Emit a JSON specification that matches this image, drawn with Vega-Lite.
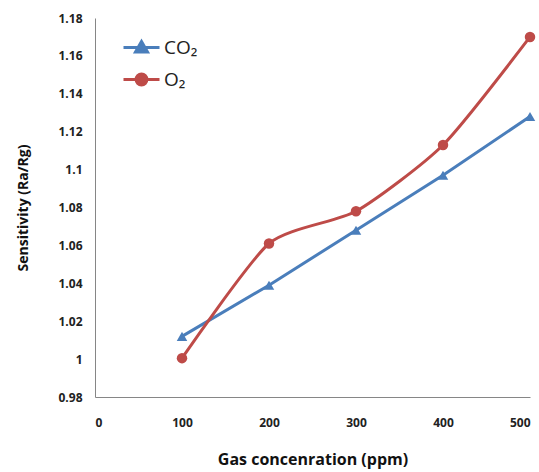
{
  "$schema": "https://vega.github.io/schema/vega-lite/v6.json",
  "autosize": "none",
  "width": 435,
  "height": 379,
  "padding": {"left": 95, "top": 18, "right": 9, "bottom": 75},
  "background": "white",
  "config": {
    "view": {"stroke": null},
    "font": "Open Sans",
    "axis": {"grid": false, "ticks": false, "domainColor": "#868686", "domainWidth": 1, "labelColor": "#222222", "titleColor": "#111111", "labelFontWeight": "bold", "labelFontSize": 12, "titleFontWeight": "bold"}
  },
  "data": {
    "values": [
      {"ppm": 100, "sens": 1.012, "gas": "CO₂"},
      {"ppm": 200, "sens": 1.039, "gas": "CO₂"},
      {"ppm": 300, "sens": 1.068, "gas": "CO₂"},
      {"ppm": 400, "sens": 1.097, "gas": "CO₂"},
      {"ppm": 500, "sens": 1.128, "gas": "CO₂"},
      {"ppm": 100, "sens": 1.0005, "gas": "O₂"},
      {"ppm": 200, "sens": 1.061, "gas": "O₂"},
      {"ppm": 300, "sens": 1.078, "gas": "O₂"},
      {"ppm": 400, "sens": 1.113, "gas": "O₂"},
      {"ppm": 500, "sens": 1.17, "gas": "O₂"}
    ]
  },
  "encoding": {
    "x": {"field": "ppm", "type": "quantitative", "scale": {"domain": [0, 500], "nice": false},
      "axis": {"values": [0, 100, 200, 300, 400, 500], "labelPadding": 20, "title": "Gas concenration (ppm)", "titleFontSize": 16, "titlePadding": 23}},
    "y": {"field": "sens", "type": "quantitative", "scale": {"domain": [0.98, 1.18], "nice": false, "zero": false},
      "axis": {"values": [0.98, 1.0, 1.02, 1.04, 1.06, 1.08, 1.1, 1.12, 1.14, 1.16, 1.18], "format": ".2~f", "labelPadding": 13, "title": "Sensitivity (Ra/Rg)", "titleFontSize": 14, "titlePadding": 27}},
    "color": {"field": "gas", "type": "nominal", "scale": {"domain": ["CO₂", "O₂"], "range": ["#4A7EBB", "#BE4B48"]},
      "legend": {
        "orient": "none", "legendX": 37, "legendY": 20, "title": null,
        "labelFontSize": 19, "labelColor": "#222222", "labelOffset": 13,
        "symbolSize": 144, "rowPadding": 10,
        "encode": {"symbols": {"update": {
          "shape": {"signal": "datum.value == 'CO₂' ? 'M-3,0L3,0M0,-1L1,0.75L-1,0.75Z' : 'M-3,0L3,0M0.9,0A0.9,0.9,0,1,1,-0.9,0A0.9,0.9,0,1,1,0.9,0'"},
          "stroke": {"scale": "color", "field": "value"},
          "fill": {"scale": "color", "field": "value"},
          "strokeWidth": {"value": 3},
          "opacity": {"value": 1}
        }}}
      }}
  },
  "layer": [
    {
      "transform": [{"filter": "datum.gas == 'CO₂'"}],
      "mark": {"type": "line", "strokeWidth": 3, "interpolate": "linear"}
    },
    {
      "transform": [{"filter": "datum.gas == 'O₂'"}],
      "mark": {"type": "line", "strokeWidth": 3, "interpolate": "cardinal", "tension": 0.35}
    },
    {
      "transform": [{"filter": "datum.gas == 'CO₂'"}],
      "mark": {"type": "point", "filled": true, "opacity": 1, "shape": "triangle-up", "size": 110}
    },
    {
      "transform": [{"filter": "datum.gas == 'O₂'"}],
      "mark": {"type": "point", "filled": true, "opacity": 1, "shape": "circle", "size": 110}
    }
  ]
}
